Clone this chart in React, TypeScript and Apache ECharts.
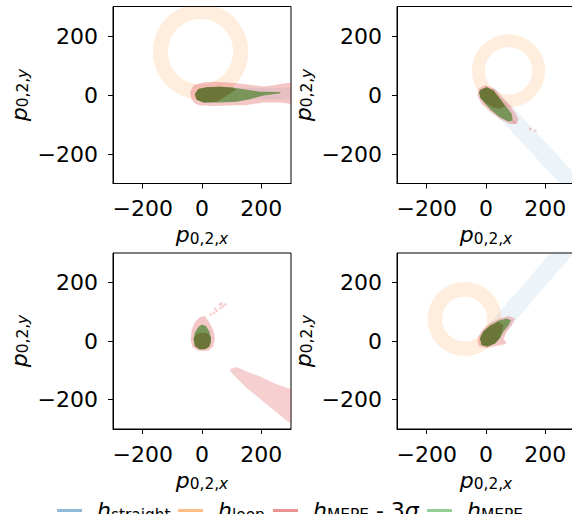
import React, { useEffect, useRef } from "react";
import * as echarts from "echarts";

// ---------- data (data units) ----------
const AXIS_MIN = -300;
const AXIS_MAX = 300;
const TICK_VALUES = [-200, 0, 200];

const SERIES_NAMES = ["h_straight", "h_loop", "h_MEPE - 3σ", "h_MEPE"];
const LEGEND_TEXTS = [
  "{h|h}{s|straight}",
  "{h|h}{s|loop}",
  "{h|h}{s|MEPE}{m| - 3}{mi|σ}",
  "{h|h}{s|MEPE}",
];

// straight-trajectory bands (polygon corners)
const straightTL = [[0, 25], [330, 25], [330, -15], [0, -15]];
const straightTR = [[27, 28], [327, -297], [283, -337], [-17, -12]];
const straightBR = [[23, -20], [323, 330], [277, 370], [-23, 20]];

// loop rings: [cx, cy, outer radius, inner radius]
const loopTL = [-5, 147, 161, 110];
const loopTR = [76, 82, 123, 80];
const loopBR = [-72, 75, 125, 76];

// MEPE - 3 sigma regions
const redTL = [[-40, 9], [-29, 32], [0, 42], [38, 45], [90, 42], [140, 37], [180, 32], [208, 29], [240, 33], [264, 37], [305, 43], [305, -31], [264, -25], [208, -25], [180, -30], [151, -34], [95, -36], [40, -37], [-7, -36], [-25, -28], [-35, -14]];
const redTR = [[-26, 20], [-3, 34], [30, 20], [53, -8], [81, -36], [98, -59], [109, -81], [104, -98], [81, -98], [47, -81], [13, -56], [-15, -30], [-29, -2]];
const redBL = [[-7, 82], [10, 85], [27, 60], [38, 37], [44, 9], [38, -19], [21, -33], [-12, -33], [-32, -21], [-38, 3], [-35, 37], [-24, 65]];
const redBLFar = [[93, -96], [117, -89], [151, -104], [196, -121], [241, -143], [287, -160], [305, -165], [305, -284], [287, -273], [253, -245], [219, -217], [185, -188], [151, -160], [123, -132], [100, -109]];
const redBR = [[-26, 15], [-11, 40], [13, 60], [47, 77], [76, 85], [98, 77], [87, 54], [68, 28], [59, 6], [70, -8], [53, -14], [25, -19], [2, -25], [-23, -17], [-29, -2]];
const redSpecksTR = [[149, -115], [166, -121], [95, -92]];
const redSpecksBL = [[30, 90], [40, 96], [50, 102], [62, 112], [70, 118], [78, 124], [60, 124], [66, 128], [45, 110]];

// MEPE regions (outer) and dense cores
const greenTL = [[-24, 3], [-12, 20], [16, 26], [61, 28], [106, 25], [151, 18], [196, 11], [264, 10], [264, 6], [208, -2], [162, -14], [117, -23], [61, -25], [5, -25], [-18, -16]];
const coreTL = [[-24, 3], [-12, 20], [16, 26], [61, 28], [106, 25], [115, 18], [84, -2], [50, -23], [5, -25], [-18, -16]];
const greenTR = [[-18, 18], [2, 26], [25, 15], [47, -13], [70, -42], [87, -64], [90, -87], [75, -90], [47, -75], [19, -53], [-3, -30], [-20, -8], [-23, 9]];
const coreTR = [[-18, 18], [2, 26], [25, 15], [47, -13], [64, -38], [47, -47], [25, -42], [2, -30], [-18, -11], [-23, 9]];
const greenBL = [[-1, 56], [13, 51], [25, 32], [30, 9], [27, -13], [13, -27], [-7, -28], [-24, -17], [-29, 6], [-24, 28], [-12, 48]];
const coreBL = [[-27, 9], [-18, 24], [-1, 28], [16, 26], [29, 15], [30, -2], [25, -19], [10, -28], [-9, -28], [-24, -17]];
const greenBR = [[-20, 9], [-9, 32], [13, 51], [42, 69], [70, 77], [84, 71], [76, 54], [59, 32], [47, 9], [31, -8], [5, -19], [-15, -14]];
const coreBR = [[-20, 9], [-9, 32], [13, 51], [42, 65], [59, 54], [53, 32], [45, 9], [31, -8], [5, -19], [-15, -14]];

// ---------- styles ----------
const FONT = "DejaVu Sans";
const BLUE_FILL = "rgba(31,119,180,0.08)";
const ORANGE_FILL = "rgba(255,127,14,0.14)";
const RED_FILL = "rgba(214,39,40,0.26)";
const RED_FAR_FILL = "rgba(214,39,40,0.22)";
const GREEN_FILL = "#7a955a";
const CORE_FILL = "#6c7538";
const LEGEND_COLORS = ["#8fbbd9", "#ffbf86", "#eb9393", "#95cf95"];

const GRIDS = [
  { left: 113, top: 6.5, width: 178, height: 177 },
  { left: 397, top: 6.5, width: 178, height: 177 },
  { left: 113, top: 253, width: 178, height: 176 },
  { left: 397, top: 253, width: 178, height: 176 },
];

const nameRich = {
  p: { fontFamily: FONT, fontStyle: "italic", fontSize: 22, lineHeight: 22, color: "#000" },
  s: { fontFamily: FONT, fontSize: 15.4, lineHeight: 16, padding: [8, 0, 0, 0], color: "#000" },
  si: { fontFamily: FONT, fontStyle: "italic", fontSize: 15.4, lineHeight: 16, padding: [8, 0, 0, 0], color: "#000" },
};

const legendRich = {
  h: { fontFamily: FONT, fontStyle: "italic", fontSize: 22, lineHeight: 22, color: "#000", padding: [0, 0, 0, 10] },
  s: { fontFamily: FONT, fontSize: 15.4, lineHeight: 16, padding: [8, 0, 0, 0], color: "#000" },
  m: { fontFamily: FONT, fontSize: 22, lineHeight: 22, color: "#000" },
  mi: { fontFamily: FONT, fontStyle: "italic", fontSize: 22, lineHeight: 22, color: "#000" },
};

function polySeries(name: string, gi: number, polys: number[][][], color: string) {
  return {
    type: "custom",
    name,
    xAxisIndex: gi,
    yAxisIndex: gi,
    clip: true,
    silent: true,
    itemStyle: { color },
    data: polys.map((_, i) => [0, 0, i]),
    encode: { x: 0, y: 1 },
    renderItem: (params: any, api: any) => {
      const poly = polys[params.dataIndex];
      return {
        type: "polygon",
        shape: { points: poly.map((p) => api.coord(p)) },
        style: { fill: color },
      };
    },
  };
}

function ringSeries(name: string, gi: number, ring: number[], color: string) {
  return {
    type: "custom",
    name,
    xAxisIndex: gi,
    yAxisIndex: gi,
    clip: true,
    silent: true,
    itemStyle: { color },
    data: [[ring[0], ring[1]]],
    encode: { x: 0, y: 1 },
    renderItem: (params: any, api: any) => {
      const c = api.coord([ring[0], ring[1]]);
      const ro = api.size([ring[2], ring[2]])[0];
      const ri = api.size([ring[3], ring[3]])[0];
      return {
        type: "ring",
        shape: { cx: c[0], cy: c[1], r: ro, r0: ri },
        style: { fill: color },
      };
    },
  };
}

function speckSeries(name: string, gi: number, pts: number[][], color: string) {
  return {
    type: "scatter",
    name,
    xAxisIndex: gi,
    yAxisIndex: gi,
    silent: true,
    symbol: "rect",
    symbolSize: 2.5,
    itemStyle: { color },
    data: pts,
  };
}

export default function App() {
  const ref = useRef<HTMLDivElement>(null);

  useEffect(() => {
    document.body.style.margin = "0";
    if (!ref.current) return;
    const chart = echarts.init(ref.current, null, { renderer: "svg" });

    const xAxes = GRIDS.map((_, i) => ({
      type: "value",
      gridIndex: i,
      min: AXIS_MIN,
      max: AXIS_MAX,
      axisLine: { show: true, onZero: false, lineStyle: { color: "#000", width: 1 } },
      axisTick: { show: true, length: 5, inside: false, customValues: TICK_VALUES, lineStyle: { color: "#000", width: 1 } },
      axisLabel: {
        customValues: TICK_VALUES,
        formatter: (v: number) => String(v).replace("-", "\u2212"),
        fontFamily: FONT,
        fontSize: 22,
        color: "#000",
        margin: 14,
      },
      splitLine: { show: false },
      name: "{p|p}{s|0,2,}{si|x}",
      nameLocation: "middle",
      nameGap: 40,
      nameTextStyle: { rich: nameRich },
    }));

    const yAxes = GRIDS.map((_, i) => ({
      type: "value",
      gridIndex: i,
      min: AXIS_MIN,
      max: AXIS_MAX,
      axisLine: { show: true, onZero: false, lineStyle: { color: "#000", width: 1 } },
      axisTick: { show: true, length: 5, inside: false, customValues: TICK_VALUES, lineStyle: { color: "#000", width: 1 } },
      axisLabel: {
        customValues: TICK_VALUES,
        formatter: (v: number) => String(v).replace("-", "\u2212"),
        fontFamily: FONT,
        fontSize: 22,
        color: "#000",
        margin: 15,
      },
      splitLine: { show: false },
      name: "{p|p}{s|0,2,}{si|y}",
      nameLocation: "middle",
      nameRotate: 90,
      nameGap: 83,
      nameTextStyle: { rich: nameRich },
    }));

    const series: any[] = [
      // top-left
      polySeries(SERIES_NAMES[0], 0, [straightTL], BLUE_FILL),
      ringSeries(SERIES_NAMES[1], 0, loopTL, ORANGE_FILL),
      polySeries(SERIES_NAMES[2], 0, [redTL], RED_FILL),
      polySeries(SERIES_NAMES[3], 0, [greenTL], GREEN_FILL),
      polySeries(SERIES_NAMES[3], 0, [coreTL], CORE_FILL),
      // top-right
      polySeries(SERIES_NAMES[0], 1, [straightTR], BLUE_FILL),
      ringSeries(SERIES_NAMES[1], 1, loopTR, ORANGE_FILL),
      polySeries(SERIES_NAMES[2], 1, [redTR], RED_FILL),
      speckSeries(SERIES_NAMES[2], 1, redSpecksTR, RED_FILL),
      polySeries(SERIES_NAMES[3], 1, [greenTR], GREEN_FILL),
      polySeries(SERIES_NAMES[3], 1, [coreTR], CORE_FILL),
      // bottom-left
      polySeries(SERIES_NAMES[2], 2, [redBL], RED_FILL),
      polySeries(SERIES_NAMES[2], 2, [redBLFar], RED_FAR_FILL),
      speckSeries(SERIES_NAMES[2], 2, redSpecksBL, RED_FILL),
      polySeries(SERIES_NAMES[3], 2, [greenBL], GREEN_FILL),
      polySeries(SERIES_NAMES[3], 2, [coreBL], CORE_FILL),
      // bottom-right
      polySeries(SERIES_NAMES[0], 3, [straightBR], BLUE_FILL),
      ringSeries(SERIES_NAMES[1], 3, loopBR, ORANGE_FILL),
      polySeries(SERIES_NAMES[2], 3, [redBR], RED_FILL),
      polySeries(SERIES_NAMES[3], 3, [greenBR], GREEN_FILL),
      polySeries(SERIES_NAMES[3], 3, [coreBR], CORE_FILL),
    ];

    const legendLeft = [57, 178, 273, 427];
    const legends = SERIES_NAMES.map((name, i) => ({
      left: legendLeft[i],
      top: 499,
      padding: 0,
      orient: "horizontal",
      itemWidth: 25,
      itemHeight: 3,
      selectedMode: false,
      data: [{ name, icon: "rect", itemStyle: { color: LEGEND_COLORS[i] } }],
      formatter: () => LEGEND_TEXTS[i],
      textStyle: { rich: legendRich },
    }));

    chart.setOption({
      animation: false,
      backgroundColor: "#fff",
      textStyle: { fontFamily: FONT },
      grid: GRIDS.map((g) => ({
        ...g,
        show: true,
        borderColor: "#000",
        borderWidth: 1,
        backgroundColor: "transparent",
        containLabel: false,
        outerBoundsMode: "none",
      })),
      xAxis: xAxes,
      yAxis: yAxes,
      legend: legends,
      series,
    });

    return () => chart.dispose();
  }, []);

  return <div ref={ref} style={{ width: 572, height: 514 }} />;
}
